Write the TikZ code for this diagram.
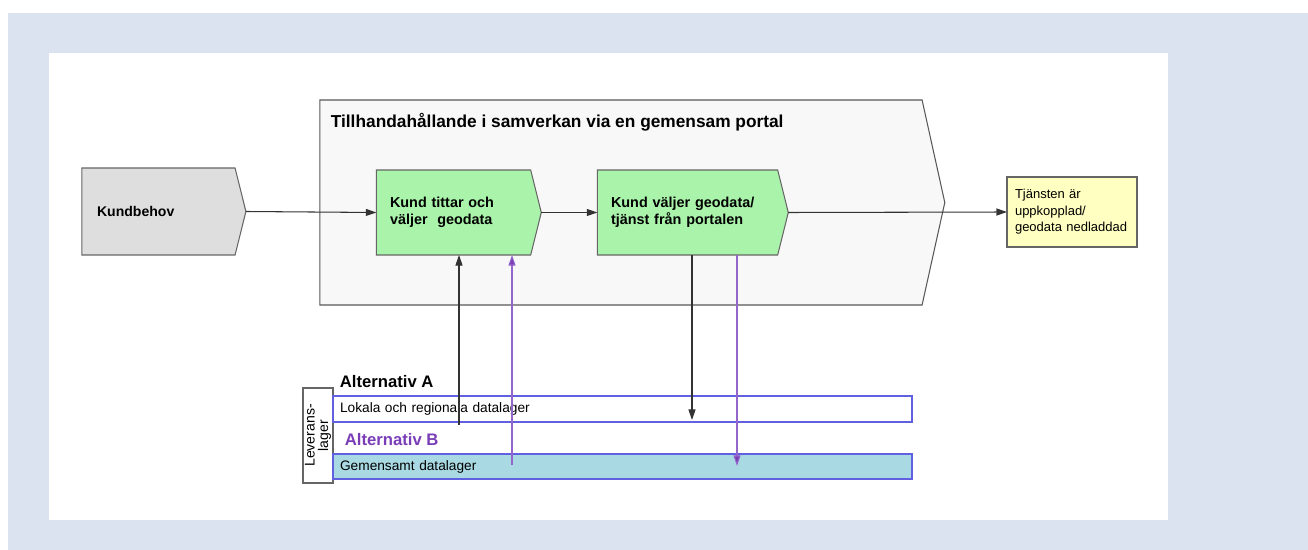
\documentclass[tikz,border=0pt]{standalone}
\usepackage{fontspec}
\setmainfont{Liberation Sans}
\usepackage{tikz}
\usetikzlibrary{shapes.symbols,arrows.meta}
\definecolor{bgblue}{HTML}{DAE3EF}
\definecolor{portalfill}{HTML}{F8F8F8}
\definecolor{needgray}{HTML}{DEDEDE}
\definecolor{stepgreen}{HTML}{AAF3AA}
\definecolor{resyellow}{HTML}{FFFFC2}
\definecolor{barblue}{HTML}{6060E0}
\definecolor{commonfill}{HTML}{A9D9E3}
\definecolor{altpurple}{HTML}{7A3DB8}
\definecolor{linepurple}{HTML}{9466CC}

\begin{document}
\begin{tikzpicture}[
  x=0.02cm, y=-0.02cm,
  every node/.style={outer sep=0pt},
  chevron/.style={draw=black!60,line width=0.6pt,shape=signal,signal to=east,signal from=nowhere,
    signal pointer angle=152,align=left,inner sep=0pt},
  stepbox/.style={chevron,fill=stepgreen,minimum height=1.7cm,
    font=\fontsize{8.2}{9.6}\selectfont\bfseries},
  bar/.style={draw=barblue,line width=0.7pt,rectangle,minimum height=0.52cm,inner xsep=0.14cm,
    text width=11.3cm,align=left,font=\fontsize{7.8}{9}\selectfont},
  arrow/.style={-{Triangle[length=6pt,width=4pt]},line width=0.6pt,draw=black!80},
  parrow/.style={arrow,draw=linepurple,-{Triangle[length=6pt,width=4pt,fill=altpurple]}}
]
  % background
  \useasboundingbox (0,0) rectangle (1308,550);
  \fill[bgblue] (8,13) rectangle (1308,550);
  \fill[white] (49,53) rectangle (1168,520);

  % portal and process steps
  \node[chevron,fill=portalfill,draw=black!65,signal pointer angle=155,minimum width=12.5cm,minimum height=4.1cm] (portal) at (621,202.5) {};
  \node[anchor=west,font=\fontsize{9.85}{11}\selectfont\bfseries] (titel) at (325,122)
    {Tillhandahållande i samverkan via en gemensam portal};
  \node[chevron,fill=needgray,minimum width=3.28cm,minimum height=1.74cm,text width=2.46cm,
    font=\fontsize{8}{9.6}\selectfont\bfseries] (behov) at (158.5,211.5) {Kundbehov};
  \node[stepbox,minimum width=3.3cm,text width=2.54cm] (g1) at (453.5,212.5) {Kund tittar och\\väljer\ \ geodata};
  \node[stepbox,minimum width=3.82cm,text width=3.06cm] (g2) at (687.5,212.5) {Kund väljer geodata/\\tjänst från portalen};
  \node[draw=black!60,line width=0.6pt,fill=resyellow,minimum width=2.6cm,minimum height=1.4cm,
    inner xsep=0.16cm,text width=2.28cm,align=left,font=\fontsize{7.4}{9.4}\selectfont] (klar) at (1072,212)
    {Tjänsten är\\uppkopplad/\\geodata nedladdad};

  % delivery layer
  \node[draw=black!60,line width=0.6pt,fill=white,minimum width=1.9cm,minimum height=0.6cm,rotate=90,
    align=center,inner sep=0pt,font=\fontsize{8}{7.8}\selectfont] (lager) at (318,435.5) {Leverans-\\lager};
  \node[bar,fill=white] (lokal) at (622.5,409) {Lokala och regionala datalager};
  \node[bar,fill=commonfill,minimum height=0.5cm] (gemen) at (622.5,466.5) {Gemensamt datalager};
  \node[anchor=west,font=\fontsize{9.5}{11}\selectfont\bfseries] (altA) at (334,382) {Alternativ A};
  \node[anchor=west,text=altpurple,font=\fontsize{9.5}{11}\selectfont\bfseries] (altB) at (339,440) {Alternativ B};

  \coordinate (qa) at (459,425);
  \coordinate (qb) at (512,465);
  \coordinate (ma) at (692,420);
  \coordinate (mb) at (737,466);

  \draw[arrow] (behov.east) -- (g1.west);
  \draw[arrow] (g1.east) -- (g2.west);
  \draw[arrow] (g2.east) -- (klar.west);
  \draw[arrow] (qa) -- (qa |- g1.south);
  \draw[parrow] (qb) -- (qb |- g1.south);
  \draw[arrow] (g2.south -| ma) -- (ma);
  \draw[parrow] (g2.south -| mb) -- (mb);
\end{tikzpicture}
\end{document}
